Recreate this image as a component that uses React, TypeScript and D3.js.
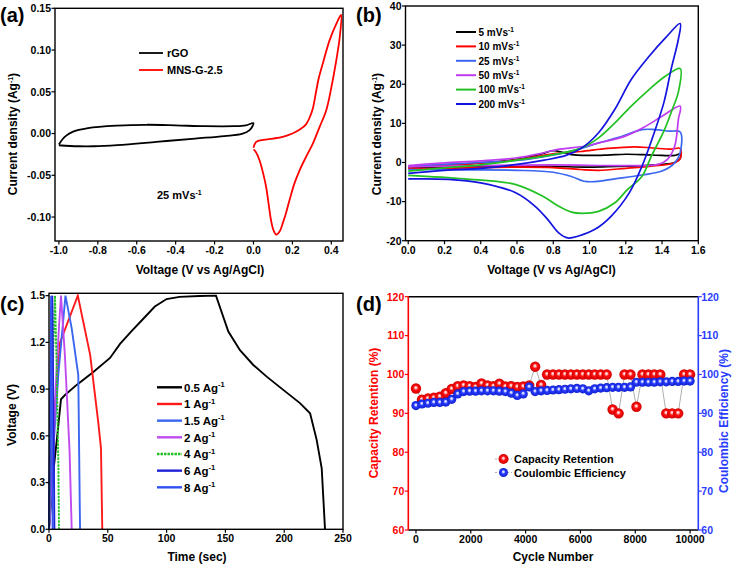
import React from 'react';
import * as d3 from 'd3';

type P = [number, number];
const FONT = "'Liberation Sans', Arial, Helvetica, sans-serif";

// ---------- Panel (a) ----------
const aXTicks = [-1.0, -0.8, -0.6, -0.4, -0.2, 0.0, 0.2, 0.4];
const aYTicks = [0.15, 0.10, 0.05, 0.0, -0.05, -0.10];
const rgoCurve: P[] = [
  [-1.0, -0.013], [-0.97, -0.004], [-0.93, 0.002], [-0.85, 0.0065], [-0.7, 0.0095], [-0.55, 0.0105],
  [-0.4, 0.0098], [-0.25, 0.0088], [-0.1, 0.0088], [-0.04, 0.0098], [0.0, 0.0125], [-0.02, 0.004],
  [-0.06, -0.0005], [-0.15, -0.003], [-0.3, -0.006], [-0.5, -0.010], [-0.7, -0.0138], [-0.82, -0.0152],
  [-0.9, -0.0152], [-1.0, -0.014],
];
const mnsCurve: P[] = [
  [0.0, -0.017], [0.014, -0.010], [0.05, -0.0075], [0.1, -0.006], [0.15, -0.004], [0.2, 0.0],
  [0.24, 0.005], [0.27, 0.011], [0.29, 0.02], [0.305, 0.03], [0.32, 0.048], [0.335, 0.066],
  [0.36, 0.087], [0.39, 0.111], [0.425, 0.131], [0.45, 0.142], [0.443, 0.115], [0.425, 0.087],
  [0.40, 0.055], [0.374, 0.028], [0.34, 0.008], [0.305, -0.012], [0.27, -0.028], [0.237, -0.044],
  [0.21, -0.06], [0.185, -0.080], [0.165, -0.097], [0.151, -0.107], [0.135, -0.117], [0.117, -0.121],
  [0.103, -0.116], [0.091, -0.105], [0.08, -0.088], [0.065, -0.064], [0.05, -0.048], [0.031, -0.032],
  [0.012, -0.022], [0.0, -0.019],
];

// ---------- Panel (b) ----------
const bXTicks = [0.0, 0.2, 0.4, 0.6, 0.8, 1.0, 1.2, 1.4, 1.6];
const bYTicks = [40, 30, 20, 10, 0, -10, -20];
const bLabels = ['5 mVs', '10 mVs', '25 mVs', '50 mVs', '100 mVs', '200 mVs'];
const bColors = ['#000000', '#ff0000', '#3a66f0', '#c03cf0', '#22c022', '#1414e0'];
const cv5: P[] = [
  [0.0, -1.1], [0.2, -0.6], [0.4, -0.1], [0.6, 0.8], [0.72, 2.0], [0.8, 3.0], [0.85, 2.6], [0.9, 2.0],
  [1.0, 1.8], [1.1, 1.9], [1.2, 2.1], [1.3, 2.0], [1.4, 1.8], [1.47, 1.8], [1.5, 2.2], [1.5, 1.0],
  [1.47, 0.0], [1.4, -0.5], [1.3, -0.8], [1.15, -1.0], [1.0, -1.2], [0.8, -1.0], [0.6, -0.9],
  [0.4, -1.0], [0.2, -1.2], [0.0, -1.3],
];
const cv10: P[] = [
  [0.0, -1.2], [0.2, -0.7], [0.4, -0.2], [0.6, 0.7], [0.8, 2.2], [0.95, 2.8], [1.1, 3.6], [1.25, 4.0],
  [1.35, 3.7], [1.45, 3.4], [1.5, 3.6], [1.5, 1.0], [1.46, -0.2], [1.35, -0.9], [1.2, -1.5],
  [1.05, -2.0], [0.95, -1.8], [0.8, -1.3], [0.6, -1.2], [0.4, -1.3], [0.2, -1.5], [0.0, -1.6],
];
const cv25: P[] = [
  [0.0, -1.0], [0.2, -0.5], [0.4, 0.0], [0.6, 0.5], [0.75, 1.5], [0.9, 2.9], [1.05, 5.0], [1.18, 6.7],
  [1.29, 8.4], [1.36, 8.4], [1.44, 8.0], [1.5, 7.8], [1.5, 2.5], [1.47, -0.1], [1.4, -2.2],
  [1.29, -3.2], [1.14, -4.2], [1.03, -4.9], [0.97, -4.8], [0.9, -3.6], [0.8, -2.5], [0.6, -2.0],
  [0.3, -1.9], [0.0, -1.8],
];
const cv50: P[] = [
  [0.0, -0.8], [0.2, -0.1], [0.4, 0.4], [0.6, 1.2], [0.72, 2.2], [0.82, 3.3], [0.98, 4.2],
  [1.08, 5.3], [1.19, 6.6], [1.3, 9.0], [1.4, 11.8], [1.5, 14.4], [1.49, 11], [1.47, 4.2],
  [1.43, 0.8], [1.38, -0.5], [1.2, -0.8], [0.8, -0.6], [0.4, -0.8], [0.0, -1.1],
];
const cv100: P[] = [
  [0.0, -2.2], [0.2, -1.4], [0.4, -0.6], [0.6, 0.6], [0.8, 2.0], [0.95, 3.6], [1.05, 6.3],
  [1.14, 10.1], [1.23, 14.4], [1.33, 18.7], [1.42, 22.1], [1.5, 24.0], [1.49, 18], [1.46, 14],
  [1.41, 8], [1.34, 1.5], [1.29, -3.5], [1.21, -6.9], [1.14, -10.3], [1.05, -12.5], [0.96, -13.0],
  [0.9, -12.7], [0.83, -11.2], [0.74, -8.6], [0.59, -5.6], [0.31, -4.2], [0.0, -3.3],
];
const cv200: P[] = [
  [0.0, -2.8], [0.2, -2.0], [0.4, -1.5], [0.6, -0.5], [0.75, 0.6], [0.87, 1.8], [0.96, 3.8],
  [1.05, 7.6], [1.14, 13.6], [1.23, 21.2], [1.33, 27.2], [1.42, 31.9], [1.5, 35.5], [1.49, 31.5],
  [1.45, 23.8], [1.41, 15.3], [1.35, 6.7], [1.29, -0.9], [1.22, -7.7], [1.12, -13.7], [1.03, -17.1],
  [0.94, -18.8], [0.88, -19.3], [0.83, -18.0], [0.77, -14.6], [0.7, -11.2], [0.59, -7.7],
  [0.4, -5.2], [0.22, -4.3], [0.0, -4.2],
];
const bCurves = [cv5, cv10, cv25, cv50, cv100, cv200];

// ---------- Panel (c) ----------
const cXTicks = [0, 50, 100, 150, 200, 250];
const cYTicks = [0.0, 0.3, 0.6, 0.9, 1.2, 1.5];
const cLabels = ['0.5 Ag', '1 Ag', '1.5 Ag', '2 Ag', '4 Ag', '6 Ag', '8 Ag'];
const cColors = ['#000000', '#ff1a1a', '#3a66f0', '#c04cf0', '#22c022', '#2020d8', '#3050f0'];
const gcd05: P[] = [
  [0, 0], [2, 0.2], [4.3, 0.41], [7, 0.6], [10.2, 0.835], [13.6, 0.862], [23.5, 0.927], [37.7, 1.01],
  [51.9, 1.1], [60.4, 1.19], [70, 1.27], [80, 1.35], [90, 1.43], [100, 1.478], [111, 1.492],
  [128, 1.498], [142, 1.5], [152.5, 1.27], [162.4, 1.15], [173.7, 1.055], [185.1, 0.98],
  [199.2, 0.895], [213.4, 0.81], [222, 0.745], [227.6, 0.574], [231.9, 0.392], [234.7, 0],
];
const gcd1: P[] = [[0, 0], [3.7, 0.65], [9.4, 1.2], [24.5, 1.5], [35, 1.12], [42, 0.68], [44.2, 0.52], [45.3, 0]];
const gcd15: P[] = [[0, 0], [4, 0.55], [8, 1.0], [14, 1.5], [19.3, 1.29], [24.9, 0.99], [26.4, 0]];
const gcd2: P[] = [[0, 0], [3, 0.4], [6, 0.95], [8.5, 1.3], [10.2, 1.5], [13.5, 1.12], [17.5, 0.5], [19.3, 0]];
const gcd4: P[] = [[0, 0], [2.5, 0.9], [5.1, 1.5], [6.5, 1.05], [8, 0.4], [8.5, 0]];
const gcd6: P[] = [[0, 0], [1.5, 0.9], [2.8, 1.5], [3.6, 0.9], [4.3, 0.3], [4.6, 0]];
const gcd8: P[] = [[0, 0], [1, 0.8], [1.8, 1.5], [2.5, 0.8], [3.1, 0]];
const cCurves = [gcd05, gcd1, gcd15, gcd2, gcd4, gcd6, gcd8];

// ---------- Panel (d) ----------
const dXTicks = [0, 2000, 4000, 6000, 8000, 10000];
const dYTicks = [60, 70, 80, 90, 100, 110, 120];
const cycles = [
  0, 217, 435, 652, 870, 1087, 1304, 1522, 1739, 1957, 2174, 2391, 2609, 2826, 3043, 3261, 3478,
  3696, 3913, 4130, 4348, 4565, 4783, 5000, 5217, 5435, 5652, 5870, 6087, 6304, 6522, 6739, 6957,
  7174, 7391, 7609, 7826, 8043, 8261, 8478, 8696, 8913, 9130, 9348, 9565, 9783, 10000,
];
const capacityRetention = [
  96.4, 93.5, 93.8, 94.0, 94.3, 95.2, 96.3, 97.0, 97.2, 97.0, 96.8, 97.7, 97.2, 97.0, 97.6, 96.9, 97.0,
  96.8, 96.9, 97.2, 102.0, 97.3, 100, 100, 100, 100, 100, 100, 100, 100, 100, 100, 100,
  91.0, 90.0, 100, 100, 91.7, 100, 100, 100, 100, 90, 90, 90, 100, 100,
];
const coulombicEfficiency = [
  92.0, 92.4, 92.6, 92.8, 92.8, 92.9, 93.6, 95.0, 95.6, 95.7, 95.7, 95.8, 95.8, 95.8, 95.7, 95.6, 95.2,
  94.6, 95.0, 96.8, 95.6, 95.8, 95.9, 96.0, 96.1, 96.2, 96.3, 96.4, 96.3, 95.8, 96.3, 96.5, 96.6,
  96.7, 96.7, 96.7, 96.8, 98.0, 98.0, 98.0, 98.0, 98.1, 98.1, 98.2, 98.2, 98.3, 98.3,
];

// ---------- scales ----------
const ax = d3.scaleLinear().domain([-1.02, 0.46]).range([55, 343]);
const ay = d3.scaleLinear().domain([-0.1287, 0.15]).range([241, 8.3]);
const bx = d3.scaleLinear().domain([-0.015, 1.6]).range([405.5, 698.3]);
const by = d3.scaleLinear().domain([-20, 40]).range([240.7, 6]);
const cx = d3.scaleLinear().domain([0, 250]).range([49, 343]);
const cy = d3.scaleLinear().domain([0, 1.515]).range([529.3, 293.3]);
const dx = d3.scaleLinear().domain([-280, 10300]).range([408.3, 698.3]);
const dy = d3.scaleLinear().domain([60, 120]).range([530, 296.7]);

const smooth = (sx: any, sy: any) =>
  d3.line<P>().x((d) => sx(d[0])).y((d) => sy(d[1])).curve(d3.curveCatmullRom.alpha(0.5));
const straight = (sx: any, sy: any) =>
  d3.line<P>().x((d) => sx(d[0])).y((d) => sy(d[1]));

const TICK_FS = 10.5;
const TITLE_FS = 12;

function Sup({ t, size = 7, up = 4.5, rest }: { t: string; size?: number; up?: number; rest?: string }) {
  return (
    <>
      <tspan dy={-up} fontSize={size}>{t}</tspan>
      {rest !== undefined && <tspan dy={up}>{rest}</tspan>}
    </>
  );
}

function LeftTicks({ sc, x, ticks, fmt, color = '#000' }: any) {
  return (
    <g>
      {ticks.map((t: number) => (
        <g key={t}>
          <line x1={x - 3.5} x2={x} y1={sc(t)} y2={sc(t)} stroke={color} strokeWidth={1.2} />
          <text x={x - 4} y={sc(t) + 3.8} textAnchor="end" fontSize={TICK_FS} fill={color}>{fmt(t)}</text>
        </g>
      ))}
    </g>
  );
}
function RightTicks({ sc, x, ticks, fmt, color = '#000' }: any) {
  return (
    <g>
      {ticks.map((t: number) => (
        <g key={t}>
          <line x1={x} x2={x + 3.5} y1={sc(t)} y2={sc(t)} stroke={color} strokeWidth={1.2} />
          <text x={x + 3} y={sc(t) + 3.8} textAnchor="start" fontSize={TICK_FS} fill={color}>{fmt(t)}</text>
        </g>
      ))}
    </g>
  );
}
function BottomTicks({ sc, y, ticks, fmt }: any) {
  return (
    <g>
      {ticks.map((t: number) => (
        <g key={t}>
          <line x1={sc(t)} x2={sc(t)} y1={y} y2={y + 3.5} stroke="#000" strokeWidth={1.2} />
          <text x={sc(t)} y={y + 13} textAnchor="middle" fontSize={TICK_FS}>{fmt(t)}</text>
        </g>
      ))}
    </g>
  );
}

function Frame({ x0, x1, y0, y1 }: any) {
  return <rect x={x0} y={y0} width={x1 - x0} height={y1 - y0} fill="none" stroke="#000" strokeWidth={1.4} />;
}

export default function App() {
  const aLine = smooth(ax, ay);
  const bLine = smooth(bx, by);
  const cLine = straight(cx, cy);
  const dRed = straight(dx, dy);
  const redPts: P[] = cycles.map((c, i) => [c, capacityRetention[i]]);
  const bluePts: P[] = cycles.map((c, i) => [c, coulombicEfficiency[i]]);
  const f1 = (v: number) => v.toFixed(1);
  const f2 = (v: number) => v.toFixed(2);
  const f0 = (v: number) => String(v);

  return (
    <svg
      width={737}
      height={566}
      viewBox="0 0 737 566"
      style={{ position: 'absolute', left: 0, top: 0, background: '#fff' }}
      fontFamily={FONT}
      fontWeight="bold"
    >
      <defs>
        <radialGradient id="redBall" cx="0.5" cy="0.5" r="0.5" fx="0.48" fy="0.4">
          <stop offset="0%" stopColor="#ffffff" />
          <stop offset="22%" stopColor="#ffb0b0" />
          <stop offset="45%" stopColor="#ff1010" />
          <stop offset="100%" stopColor="#d00000" />
        </radialGradient>
        <radialGradient id="blueBall" cx="0.5" cy="0.5" r="0.5" fx="0.48" fy="0.4">
          <stop offset="0%" stopColor="#ffffff" />
          <stop offset="22%" stopColor="#b8c4ff" />
          <stop offset="45%" stopColor="#2a3cff" />
          <stop offset="100%" stopColor="#1020d0" />
        </radialGradient>
      </defs>
      <rect x={0} y={0} width={737} height={566} fill="#fff" />

      {/* ================= (a) ================= */}
      <text x={0} y={22} fontSize={20}>(a)</text>
      <path d={aLine(rgoCurve) || ''} fill="none" stroke="#000" strokeWidth={1.8} />
      <path d={aLine(mnsCurve) || ''} fill="none" stroke="#ff0000" strokeWidth={1.8} />
      <Frame x0={55} x1={343} y0={8.3} y1={241} />
      <LeftTicks sc={ay} x={55} ticks={aYTicks} fmt={f2} />
      <BottomTicks sc={ax} y={241} ticks={aXTicks} fmt={f1} />
      <line x1={139} x2={163} y1={53} y2={53} stroke="#000" strokeWidth={1.8} />
      <text x={167} y={57} fontSize={11}>rGO</text>
      <line x1={139} x2={163} y1={70} y2={70} stroke="#ff0000" strokeWidth={1.8} />
      <text x={167} y={74} fontSize={11}>MNS-G-2.5</text>
      <text x={157} y={199} fontSize={11}>25 mVs<Sup t="-1" /></text>
      <text x={200} y={273.5} textAnchor="middle" fontSize={TITLE_FS}>Voltage (V vs Ag/AgCl)</text>
      <text transform="translate(17,134) rotate(-90)" textAnchor="middle" fontSize={TITLE_FS}>
        Current density (Ag<Sup t="-1" rest=")" />
      </text>

      {/* ================= (b) ================= */}
      <text x={356} y={22} fontSize={20}>(b)</text>
      {bCurves.map((c, i) => (
        <path key={i} d={bLine(c) || ''} fill="none" stroke={bColors[i]} strokeWidth={1.7} />
      ))}
      <Frame x0={405.5} x1={698.3} y0={6} y1={240.7} />
      <LeftTicks sc={by} x={405.5} ticks={bYTicks} fmt={f0} />
      <BottomTicks sc={bx} y={240.7} ticks={bXTicks} fmt={f1} />
      {bLabels.map((l, i) => (
        <g key={l}>
          <line x1={456} x2={476} y1={32 + i * 14.4} y2={32 + i * 14.4} stroke={bColors[i]} strokeWidth={2} />
          <text x={478.5} y={35.8 + i * 14.4} fontSize={10}>{l}<Sup t="-1" size={6.5} up={4} /></text>
        </g>
      ))}
      <text x={551.5} y={273.5} textAnchor="middle" fontSize={TITLE_FS}>Voltage (V vs Ag/AgCl)</text>
      <text transform="translate(381,134) rotate(-90)" textAnchor="middle" fontSize={TITLE_FS}>
        Current density (Ag<Sup t="-1" rest=")" />
      </text>

      {/* ================= (c) ================= */}
      <text x={0} y={311} fontSize={20}>(c)</text>
      {cCurves.map((c, i) => (
        <path key={i} d={cLine(c) || ''} fill="none" stroke={cColors[i]} strokeWidth={1.9}
          strokeDasharray={i === 4 ? '2.5,1' : undefined} />
      ))}
      <Frame x0={49} x1={343} y0={293.3} y1={529.3} />
      <LeftTicks sc={cy} x={49} ticks={cYTicks} fmt={f1} />
      <BottomTicks sc={cx} y={529.3} ticks={cXTicks} fmt={f0} />
      {cLabels.map((l, i) => (
        <g key={l}>
          <line x1={157} x2={182} y1={387.3 + i * 16.67} y2={387.3 + i * 16.67} stroke={cColors[i]} strokeWidth={2.4}
            strokeDasharray={i === 4 ? '2.5,1' : undefined} />
          <text x={184} y={391.5 + i * 16.67} fontSize={11.5}>{l}<Sup t="-1" size={7.5} up={4.5} /></text>
        </g>
      ))}
      <text x={197} y={561} textAnchor="middle" fontSize={TITLE_FS}>Time (sec)</text>
      <text transform="translate(16,415) rotate(-90)" textAnchor="middle" fontSize={TITLE_FS}>Voltage (V)</text>

      {/* ================= (d) ================= */}
      <text x={356} y={311} fontSize={20}>(d)</text>
      <line x1={408.3} x2={698.3} y1={296.7} y2={296.7} stroke="#000" strokeWidth={1.4} />
      <line x1={408.3} x2={698.3} y1={530} y2={530} stroke="#000" strokeWidth={1.4} />
      <path d={dRed(redPts) || ''} fill="none" stroke="#999" strokeWidth={0.8} />
      <path d={dRed(bluePts) || ''} fill="none" stroke="#999" strokeWidth={0.8} />
      {redPts.map((p, i) => (
        <circle key={'r' + i} cx={dx(p[0])} cy={dy(p[1])} r={5.2} fill="url(#redBall)" />
      ))}
      {bluePts.map((p, i) => (
        <circle key={'b' + i} cx={dx(p[0])} cy={dy(p[1])} r={4.6} fill="url(#blueBall)" />
      ))}
      <line x1={408.3} x2={408.3} y1={296.7} y2={530} stroke="#ff0000" strokeWidth={1.6} />
      <line x1={698.3} x2={698.3} y1={296.7} y2={530} stroke="#2a3cff" strokeWidth={1.6} />
      <LeftTicks sc={dy} x={408.3} ticks={dYTicks} fmt={f0} color="#ff0000" />
      <RightTicks sc={dy} x={698.3} ticks={dYTicks} fmt={f0} color="#2a3cff" />
      <BottomTicks sc={dx} y={530} ticks={dXTicks} fmt={f0} />
      {/* legend */}
      <line x1={495} x2={512} y1={459} y2={459} stroke="#999" strokeWidth={0.8} strokeDasharray="2,2" />
      <circle cx={503.5} cy={459} r={5} fill="url(#redBall)" />
      <text x={514} y={463} fontSize={11}>Capacity Retention</text>
      <line x1={495} x2={512} y1={472.5} y2={472.5} stroke="#999" strokeWidth={0.8} strokeDasharray="2,2" />
      <circle cx={503.5} cy={472.5} r={4.5} fill="url(#blueBall)" />
      <text x={514} y={476.5} fontSize={11}>Coulombic Efficiency</text>
      <text x={553} y={561} textAnchor="middle" fontSize={TITLE_FS}>Cycle Number</text>
      <text transform="translate(378,413) rotate(-90)" textAnchor="middle" fontSize={TITLE_FS} fill="#ff0000">
        Capacity Retention (%)
      </text>
      <text transform="translate(728,421) rotate(-90)" textAnchor="middle" fontSize={TITLE_FS} fill="#2a3cff">
        Coulombic Efficiency (%)
      </text>
    </svg>
  );
}
